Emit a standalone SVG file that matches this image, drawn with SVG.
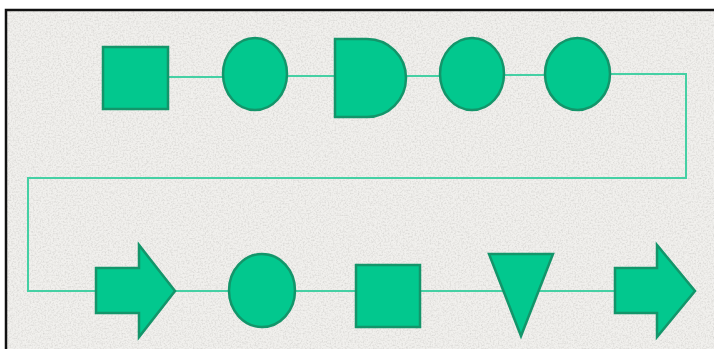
<svg xmlns="http://www.w3.org/2000/svg" width="714" height="349" viewBox="0 0 714 349">
  <defs>
    <filter id="grain" x="0" y="0" width="100%" height="100%">
      <feTurbulence type="fractalNoise" baseFrequency="0.6" numOctaves="3" seed="7" result="n"/>
      <feColorMatrix in="n" type="matrix" values="0 0 0 0 0.62  0 0 0 0 0.61  0 0 0 0 0.59  0 0 0 1.4 -0.55" result="g"/>
      <feComposite in="g" in2="SourceGraphic" operator="over"/>
    </filter>
    <style>
      .shape { fill: #02C88E; stroke: #13956A; stroke-width: 2.5; stroke-linejoin: miter; }
      .conn { fill: none; stroke: #45D0A4; stroke-width: 2; }
    </style>
  </defs>
  <rect x="0" y="0" width="714" height="349" fill="#FFFFFF"/>
  <rect x="6" y="10" width="708" height="339" fill="#F1F0ED" filter="url(#grain)"/>
  <path d="M6 349 V10 H714" fill="none" stroke="#111111" stroke-width="2.5"/>

  <g id="connectors">
    <polyline class="conn" points="168,77 223,77"/>
    <polyline class="conn" points="287,76 335,76"/>
    <polyline class="conn" points="406,76 440,76"/>
    <polyline class="conn" points="504,75 545,75"/>
    <polyline class="conn" points="610,74 686,74 686,178 28,178 28,291 96,291"/>
    <polyline class="conn" points="175,291 229,291"/>
    <polyline class="conn" points="295,291 356,291"/>
    <polyline class="conn" points="420,291 615,291"/>
  </g>

  <g id="node-square-1"><rect class="shape" x="103" y="47" width="65" height="62"/></g>
  <g id="node-circle-1"><ellipse class="shape" cx="255" cy="74" rx="32" ry="36"/></g>
  <g id="node-delay"><path class="shape" d="M335 39 H367 A39 39 0 0 1 367 117 H335 Z"/></g>
  <g id="node-circle-2"><ellipse class="shape" cx="472" cy="74" rx="32" ry="36"/></g>
  <g id="node-circle-3"><ellipse class="shape" cx="577.5" cy="74" rx="32.5" ry="36"/></g>

  <g id="node-arrow-1"><polygon class="shape" points="96,268 139,268 139,245 175,291 139,337 139,313 96,313"/></g>
  <g id="node-circle-4"><ellipse class="shape" cx="262" cy="290.5" rx="33" ry="36.5"/></g>
  <g id="node-square-2"><rect class="shape" x="356" y="265" width="64" height="62"/></g>
  <g id="node-triangle"><polygon class="shape" points="489,254 553,254 521,336"/></g>
  <g id="node-arrow-2"><polygon class="shape" points="615,268 657,268 657,245 695,291 657,337 657,313 615,313"/></g>
</svg>
